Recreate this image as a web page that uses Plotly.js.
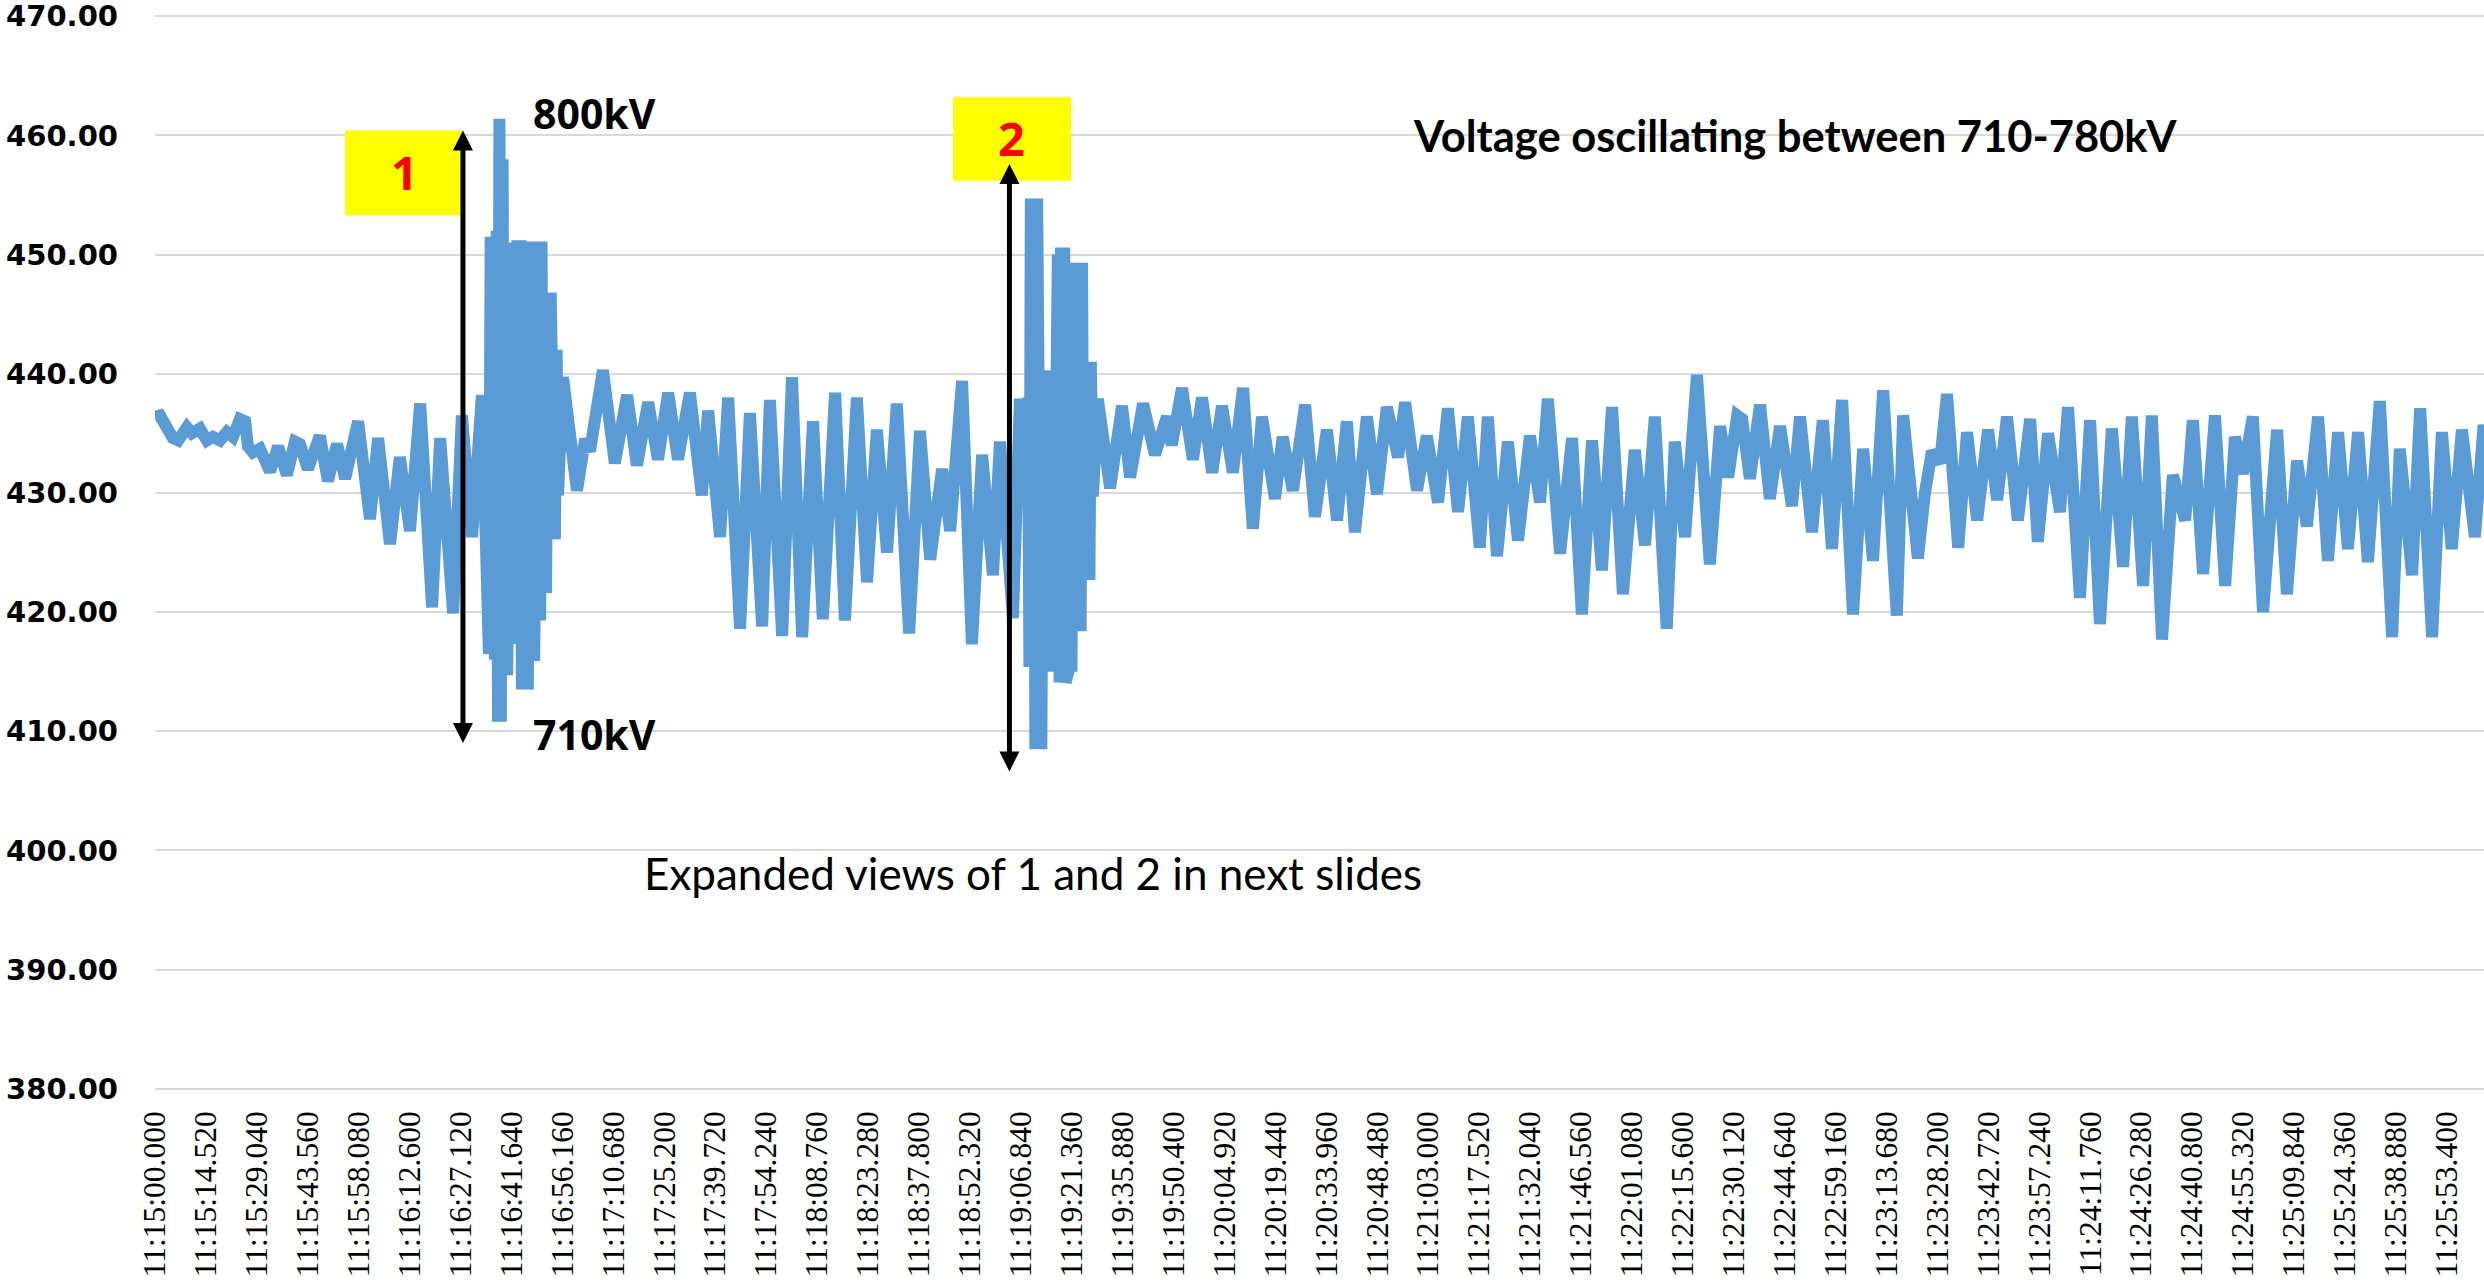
<!DOCTYPE html>
<html>
<head>
<meta charset="utf-8">
<script src="https://cdn.plot.ly/plotly-3.0.1.min.js"></script>
<style>
html, body { margin: 0; padding: 0; background: #ffffff; }
#chart { width: 2484px; height: 1282px; }
</style>
</head>
<body>
<div id="chart"></div>
<script>
// Time of each sample, seconds after 11:15:00.000
const timeSec = [0,1.4,5.1,6.6,9.1,10.5,12.8,14.8,16.5,18.5,20.5,22.2,24.2,25.7,26.5,27.9,29.9,31.9,32.8,35.1,37.6,39.9,41.3,43.6,
47.0,49.3,51.9,54.2,57.9,61.3,63.6,67.0,69.8,72.7,75.6,79.0,81.3,85.0,87.5,90.4,93.2,
95.2,95.7,96.1,96.5,96.9,97.4,97.8,98.2,98.6,99.1,99.5,99.9,100.4,100.8,101.2,101.6,102.1,102.5,102.9,103.3,103.8,104.2,104.6,105.1,105.5,105.9,106.3,106.8,107.2,107.6,108.1,108.5,108.9,109.3,109.8,110.2,110.6,111.0,111.5,111.9,112.3,112.8,113.2,113.6,114.0,114.5,114.9,
116.3,120.3,122.6,124.0,127.7,131.1,134.6,137.4,140.6,143.4,146.3,149.1,152.5,155.9,157.7,161.1,163.4,166.8,169.6,173.1,175.3,178.8,
181.6,184.5,187.6,190.4,193.9,196.7,200.1,203.0,205.8,208.7,211.5,215.0,
218.1,221.0,224.4,226.7,230.1,232.9,235.8,238.9,240.9,244.6,246.6,
248.1,248.9,249.3,249.7,250.2,250.6,251.0,251.5,251.9,252.3,252.7,253.2,253.6,254.0,254.5,254.9,255.3,255.7,256.2,256.6,257.0,257.4,257.9,258.3,258.7,259.2,259.6,260.0,260.4,260.9,261.3,261.7,262.2,262.6,263.0,263.4,263.9,264.3,264.7,265.1,265.6,266.0,266.4,266.8,267.4,
268.8,272.3,275.7,278.0,281.7,285.1,288.5,289.9,292.8,295.9,298.5,301.4,304.2,307.3,310.2,313.0,315.6,319.3,321.5,324.4,
327.9,330.7,334.1,337.0,339.8,342.1,345.5,348.4,351.2,354.4,356.4,359.8,362.6,365.8,368.6,371.5,374.3,377.7,380.0,382.6,385.7,388.6,392.0,394.9,397.1,400.6,404.0,406.8,409.7,412.5,415.4,418.5,421.9,424.8,427.6,431.0,433.3,436.2,439.6,
443.3,446.2,448.5,451.1,452.5,454.7,457.6,460.4,463.3,466.7,469.0,472.4,475.5,478.1,481.0,484.1,487.0,489.8,492.7,496.6,498.4,502.6,504.6,506.6,508.9,510.9,514.1,516.6,519.5,522.6,525.2,528.0,531.1,534.6,536.8,539.7,543.1,545.4,548.8,551.7,
554.5,557.9,561.1,563.6,566.8,569.3,572.2,575.3,578.8,581.0,583.9,587.3,590.2,593.0,595.3,598.1,601.0,605.0,607.8,610.7,613.5,616.7,619.5,622.4,625.2,628.1,630.9,634.3,637.8,640.0,643.5,645.8,649.2,652.0,654.8,657.7,661.4,663.9,667.1];

// Voltage value at each sample (kV on the 380-470 scale)
const voltage = [436.4,436.5,434.6,434.4,435.5,435.0,435.4,434.4,434.7,434.4,435.1,434.7,436.2,436.0,433.9,433.4,433.7,431.9,431.8,433.9,431.5,434.3,434.1,432.0,
434.8,431.0,434.1,431.2,436.0,427.8,434.6,425.7,433.0,426.8,437.5,420.4,434.6,419.9,436.5,426.3,438.2,
416.5,451.5,416.5,451.5,416.0,452.0,410.8,461.4,410.8,458.0,414.7,451.0,414.7,449.3,418.6,449.3,418.6,449.3,417.4,451.2,417.4,451.2,413.5,450.0,413.5,450.0,413.5,450.0,415.9,451.1,415.9,451.1,419.3,451.1,419.3,451.1,421.6,446.5,421.6,446.8,426.1,446.8,426.1,446.8,426.1,442.0,429.8,
439.7,430.2,434.5,433.5,440.3,432.5,438.2,432.3,437.6,432.8,438.4,432.8,438.4,429.8,436.9,426.3,438.0,418.6,436.7,418.8,437.8,418.0,
439.7,417.9,436.0,419.4,438.4,419.3,438.0,422.5,435.3,425.0,437.5,418.2,
435.2,424.4,432.0,426.8,439.4,417.3,433.2,423.1,434.3,419.5,437.9,
429.0,438.0,415.4,454.7,415.4,454.7,408.5,454.7,408.5,440.3,408.5,440.3,417.7,440.3,417.7,437.9,417.7,437.9,415.0,450.0,415.0,450.0,414.1,450.6,414.1,450.6,414.1,446.5,415.0,446.5,415.0,449.3,418.4,449.3,418.4,449.3,418.4,449.3,422.7,441.0,422.7,441.0,422.7,441.0,429.7,
437.9,430.4,437.3,431.3,437.5,433.2,436.4,434.0,438.8,432.8,438.0,431.7,437.3,431.7,438.8,427.0,436.4,429.5,434.7,430.2,
437.4,428.0,435.3,427.7,436.0,426.7,436.4,429.9,437.2,433.0,437.6,430.2,434.8,429.2,437.1,428.4,436.4,425.4,436.4,424.7,434.3,426.0,434.8,429.2,437.9,424.9,434.6,419.8,434.4,423.5,437.2,421.5,433.6,425.6,436.4,418.6,434.3,426.3,439.9,
424.0,435.6,431.3,436.5,436.2,431.2,437.4,429.5,435.6,428.9,436.4,426.7,436.1,425.3,437.8,419.8,433.7,424.3,438.6,419.7,436.5,424.5,430.0,433.5,432.5,438.3,425.4,435.1,427.7,435.3,429.4,436.4,427.7,436.2,425.9,435.0,428.4,437.2,421.2,436.1,
419.0,435.4,423.8,436.4,422.2,436.5,417.7,431.5,427.7,436.1,423.2,436.5,422.2,434.7,431.6,436.4,420.0,435.3,421.5,432.7,427.2,436.4,424.3,435.1,425.3,435.1,424.2,437.7,417.9,433.7,423.1,437.1,417.9,435.1,425.3,435.3,426.3,435.7,431.0];

// Category axis labels
const tickLabels = ["11:15:00.000","11:15:14.520","11:15:29.040","11:15:43.560","11:15:58.080","11:16:12.600","11:16:27.120","11:16:41.640","11:16:56.160","11:17:10.680","11:17:25.200","11:17:39.720","11:17:54.240","11:18:08.760","11:18:23.280","11:18:37.800","11:18:52.320","11:19:06.840","11:19:21.360","11:19:35.880","11:19:50.400","11:20:04.920","11:20:19.440","11:20:33.960","11:20:48.480","11:21:03.000","11:21:17.520","11:21:32.040","11:21:46.560","11:22:01.080","11:22:15.600","11:22:30.120","11:22:44.640","11:22:59.160","11:23:13.680","11:23:28.200","11:23:42.720","11:23:57.240","11:24:11.760","11:24:26.280","11:24:40.800","11:24:55.320","11:25:09.840","11:25:24.360","11:25:38.880","11:25:53.400"];

const yTicks = [380,390,400,410,420,430,440,450,460,470];

// Annotation texts
const noteTop = "800kV";
const noteBottom = "710kV";
const noteRight = "Voltage oscillating between 710-780kV";
const noteBelow = "Expanded views of 1 and 2 in next slides";
const markerLabels = ["1", "2"];

function toSec(s) {
  const p = s.split(":");
  return (+p[0]) * 3600 + (+p[1]) * 60 + parseFloat(p[2]) - (11 * 3600 + 15 * 60);
}
const tickVals = tickLabels.map(toSec);

const trace = {
  x: timeSec,
  y: voltage,
  type: "scatter",
  mode: "lines",
  line: { color: "#5B9BD5", width: 12 },
  hoverinfo: "skip"
};

const boldText = { family: "Open Sans", size: 41, color: "#000000", weight: "bold" };
const calibriBold = { family: "Lato", size: 43.5, color: "#000000", weight: "bold" };
const calibriReg = { family: "Lato", size: 44, color: "#000000" };
const redNum = { family: "Open Sans", size: 47, color: "#FF0000", weight: "bold" };

const layout = {
  width: 2484,
  height: 1282,
  margin: { l: 155, r: 0, t: 15, b: 192, pad: 0 },
  paper_bgcolor: "#ffffff",
  plot_bgcolor: "#ffffff",
  showlegend: false,
  xaxis: {
    type: "linear",
    range: [0, 664],
    tickmode: "array",
    tickvals: tickVals,
    ticktext: tickLabels,
    tickangle: -90,
    tickfont: { family: "Liberation Sans Narrow", size: 31.5, color: "#000000" },
    ticks: "",
    ticklabelstandoff: 14,
    ticklabeloverflow: "allow",
    showgrid: false,
    zeroline: false,
    showline: false,
    automargin: false
  },
  yaxis: {
    range: [379.9, 470.1],
    tickmode: "array",
    tickvals: yTicks,
    ticktext: yTicks.map(v => v.toFixed(2)),
    tickfont: { family: "DejaVu Sans", size: 29, color: "#000000", weight: "bold" },
    ticks: "",
    ticklabelstandoff: 36,
    ticklabeloverflow: "allow",
    showgrid: true,
    gridcolor: "#D9D9D9",
    gridwidth: 2,
    zeroline: false,
    showline: false,
    automargin: false
  },
  shapes: [
    { type: "rect", xref: "x", yref: "y", x0: 54.2, x1: 87.9, y0: 453.3, y1: 460.4,
      fillcolor: "#FFFF00", line: { width: 0 }, layer: "above" },
    { type: "rect", xref: "x", yref: "y", x0: 227.5, x1: 261.2, y0: 456.2, y1: 463.2,
      fillcolor: "#FFFF00", line: { width: 0 }, layer: "above" }
  ],
  annotations: [
    { xref: "x", yref: "y", x: 71.0, y: 456.9, text: markerLabels[0], showarrow: false, font: redNum },
    { xref: "x", yref: "y", x: 244.3, y: 459.8, text: markerLabels[1], showarrow: false, font: redNum },
    { xref: "x", yref: "y", x: 125.4, y: 461.9, text: noteTop, showarrow: false, font: boldText },
    { xref: "x", yref: "y", x: 125.4, y: 409.8, text: noteBottom, showarrow: false, font: boldText },
    { xref: "x", yref: "y", x: 467.6, y: 460.0, text: noteRight, showarrow: false, font: calibriBold },
    { xref: "x", yref: "y", x: 250.3, y: 398.1, text: noteBelow, showarrow: false, font: calibriReg },
    { xref: "x", yref: "y", x: 87.8, y: 460.4, axref: "x", ayref: "y", ax: 87.8, ay: 408.9,
      text: "", showarrow: true, arrowside: "end+start", arrowhead: 2, startarrowhead: 2,
      arrowsize: 0.8, startarrowsize: 0.8, arrowwidth: 5, arrowcolor: "#000000", standoff: 0, startstandoff: 0 },
    { xref: "x", yref: "y", x: 243.6, y: 457.6, axref: "x", ayref: "y", ax: 243.6, ay: 406.5,
      text: "", showarrow: true, arrowside: "end+start", arrowhead: 2, startarrowhead: 2,
      arrowsize: 0.8, startarrowsize: 0.8, arrowwidth: 5, arrowcolor: "#000000", standoff: 0, startstandoff: 0 }
  ]
};

Plotly.newPlot("chart", [trace], layout, { staticPlot: true, displayModeBar: false });
</script>
</body>
</html>
